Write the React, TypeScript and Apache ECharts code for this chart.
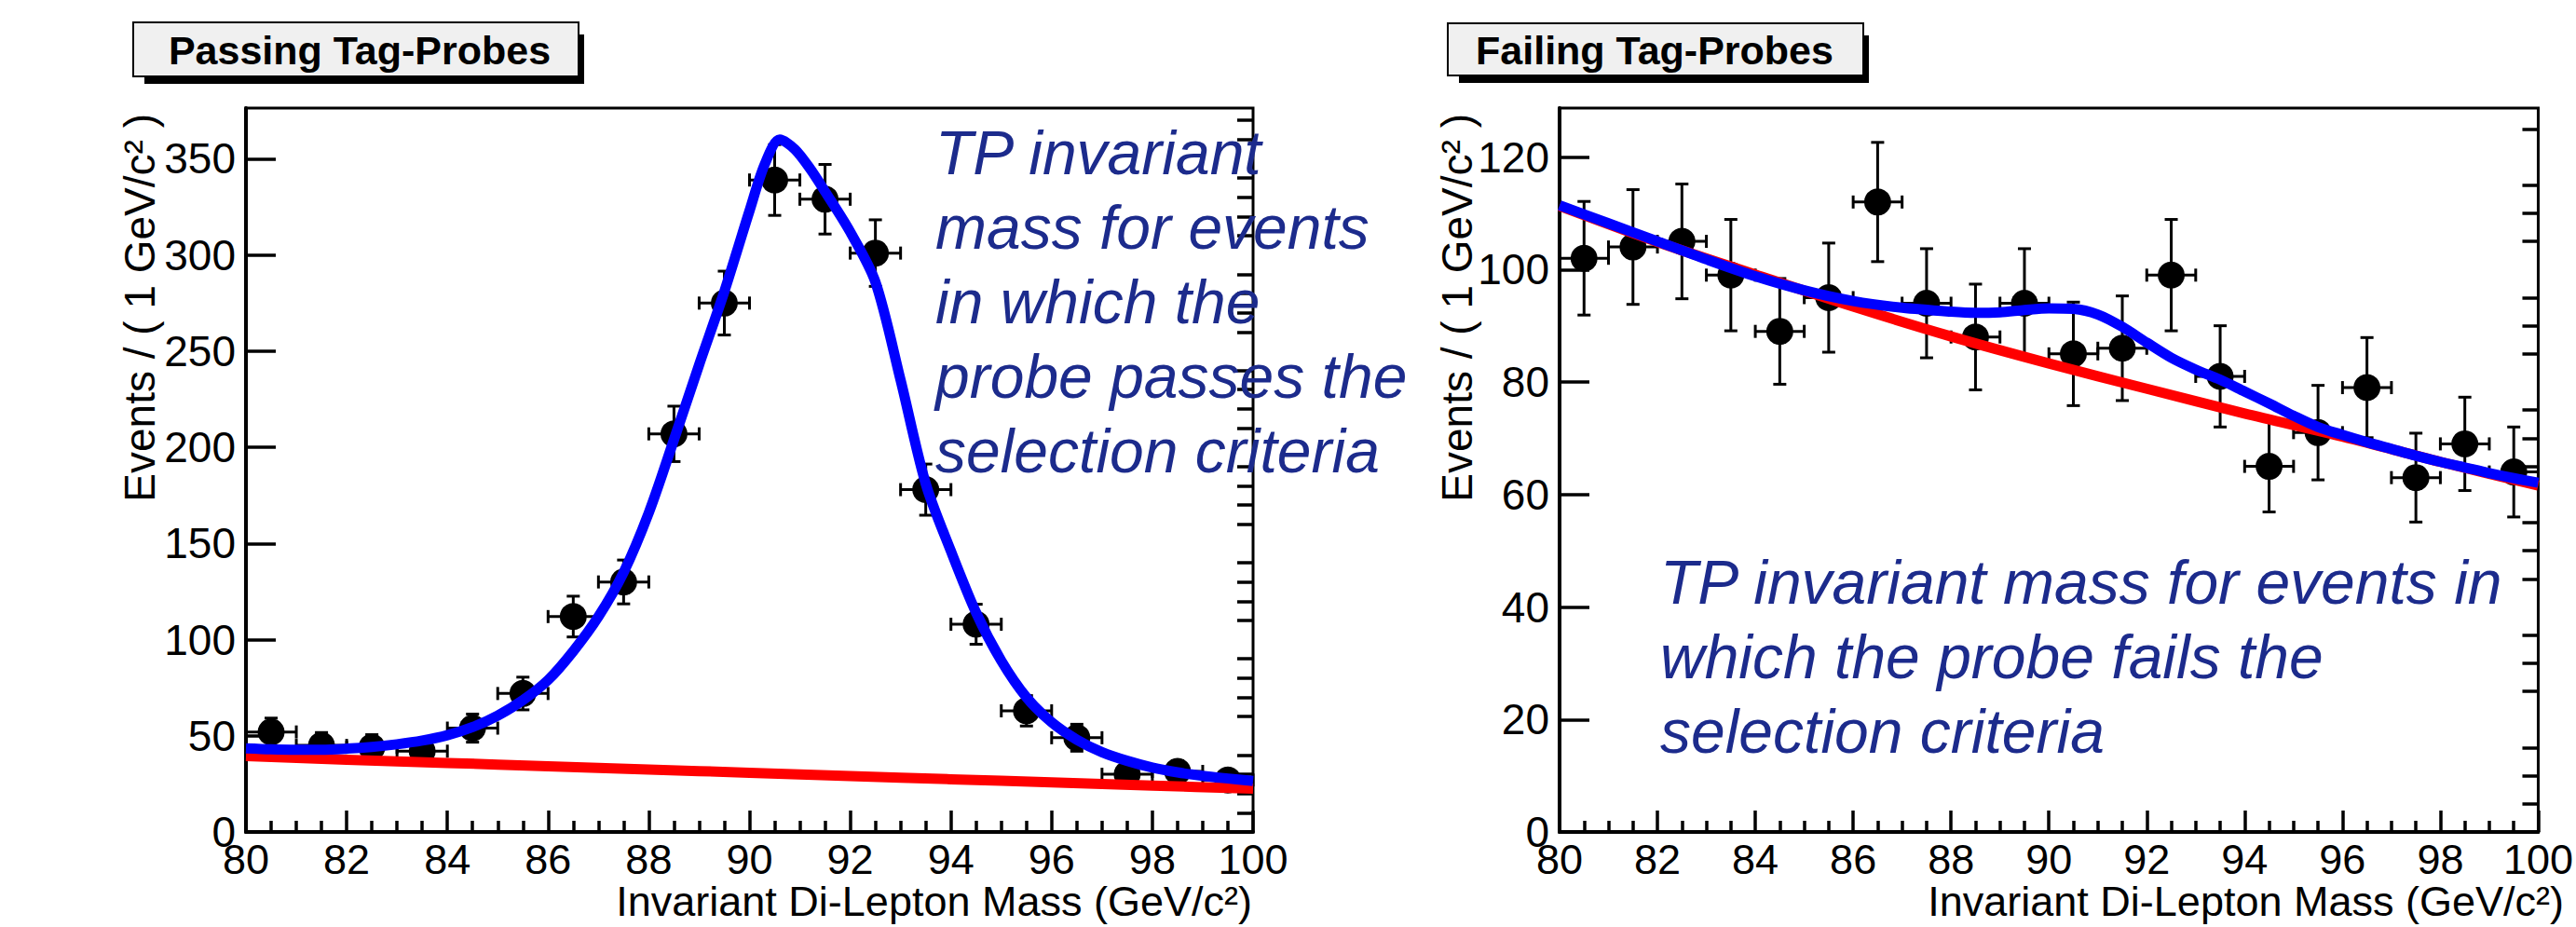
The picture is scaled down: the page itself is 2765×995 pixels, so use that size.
import React, { useEffect, useRef } from "react";
import * as echarts from "echarts";

// ---------- data ----------
const binCenters = [80.5, 81.5, 82.5, 83.5, 84.5, 85.5, 86.5, 87.5, 88.5, 89.5, 90.5, 91.5, 92.5, 93.5, 94.5, 95.5, 96.5, 97.5, 98.5, 99.5];
const binHalfWidth = 0.5;

const passCounts = [52, 45, 44, 42, 54, 72, 112, 130, 207, 275, 339, 329, 301, 178, 108, 63, 49, 30, 31.5, 27];
const passErrors = [7.2, 6.7, 6.6, 6.5, 7.3, 8.5, 10.6, 11.4, 14.4, 16.6, 18.4, 18.1, 17.3, 13.3, 10.4, 7.9, 7.0, 5.5, 5.6, 5.2];

const failCounts = [102, 104, 105, 99, 89, 95, 112, 94, 88, 94, 85, 86, 99, 81, 65, 71, 79, 63, 69, 64];
const failErrors = [10.1, 10.2, 10.2, 9.9, 9.4, 9.7, 10.6, 9.7, 9.4, 9.7, 9.2, 9.3, 9.9, 9.0, 8.1, 8.4, 8.9, 7.9, 8.3, 8.0];

// fitted curves (signal + background, blue) and background (red)
const passFitX = [80, 80.5, 81, 81.5, 82, 82.5, 83, 83.5, 84, 84.5, 85, 85.5, 86, 86.5, 87, 87.5, 88, 88.5, 89, 89.5, 90, 90.3, 90.6, 90.9, 91.2, 91.5, 92, 92.5, 93, 93.5, 94, 94.5, 95, 95.5, 96, 96.5, 97, 97.5, 98, 98.5, 99, 99.5, 100];
const passFitY = [43.5, 43.0, 42.8, 42.8, 43.3, 44.2, 45.6, 47.5, 50.3, 54.5, 60.5, 68.5, 79, 94, 112, 135, 166, 204, 243, 281, 323, 347, 360, 355, 345, 333, 312, 286, 235, 181, 146, 114, 89, 70, 57, 48, 41.5, 37, 33.5, 31, 29.2, 27.8, 26.5];
const passBkgX = [80, 82, 84, 86, 88, 90, 92, 94, 96, 98, 100];
const passBkgY = [39.5, 37.6, 35.9, 34.2, 32.5, 30.8, 29.1, 27.4, 25.8, 24.1, 22.5];

const failFitX = [80, 81, 82, 83, 84, 85, 86, 87, 88, 88.5, 89, 89.5, 90, 90.5, 91, 91.5, 92, 92.5, 93, 93.5, 94, 94.5, 95, 95.5, 96, 96.5, 97, 97.5, 98, 98.5, 99, 99.5, 100];
const failFitY = [111.4, 108.2, 105.0, 101.8, 98.8, 96.3, 94.4, 93.2, 92.5, 92.3, 92.4, 92.8, 93.1, 93.0, 92.0, 89.8, 87.0, 84.3, 82.2, 80.4, 78.3, 76.2, 74.0, 72.0, 70.6, 69.3, 68.1, 66.9, 65.8, 64.8, 63.8, 62.9, 62.1];
const failBkgX = [80, 82, 84, 86, 88, 90, 92, 94, 96, 98, 100];
const failBkgY = [111.3, 104.9, 99.1, 93.4, 88.1, 83.3, 78.8, 74.4, 70.3, 65.8, 61.6];

// axes
const xMin = 80;
const xMax = 100;
const xStep = 2;
const passYMax = 376.4;
const failYMax = 128.7;
const passYTicks = [0, 50, 100, 150, 200, 250, 300, 350];
const passYMinorTicks = [10, 20, 30, 40, 60, 70, 80, 90, 110, 120, 130, 140, 160, 170, 180, 190, 210, 220, 230, 240, 260, 270, 280, 290, 310, 320, 330, 340, 360, 370];
const failYTicks = [0, 20, 40, 60, 80, 100, 120];
const failYMinorTicks = [5, 10, 15, 25, 30, 35, 45, 50, 55, 65, 70, 75, 85, 90, 95, 105, 110, 115, 125];

const passTitle = "Passing Tag-Probes";
const failTitle = "Failing Tag-Probes";
const yTitle = "Events / ( 1 GeV/c\u00B2 )";
const xTitle = "Invariant Di-Lepton Mass (GeV/c\u00B2)";
const passNote = ["TP invariant", "mass for events", "in which the", "probe passes the", "selection criteria"];
const failNote = ["TP invariant mass for events in", "which the probe fails the", "selection criteria"];

// ---------- layout ----------
const W = 2765;
const H = 995;
const FONT = "'Liberation Sans', Arial, Helvetica, sans-serif";
const NOTE_COLOR = "#1c2b8c";

const panels = [
  { left: 264, right: 1345, top: 116, bottom: 893 },
  { left: 1674, right: 2754, top: 116, bottom: 893 },
];

function pairs(xs: number[], ys: number[]) {
  return xs.map((x, i) => [x, ys[i]]);
}

function errorBarItem(params: any, api: any) {
  const x = api.value(0);
  const y = api.value(1);
  const e = api.value(2);
  const pL = api.coord([x - binHalfWidth, y]);
  const pR = api.coord([x + binHalfWidth, y]);
  const pT = api.coord([x, y + e]);
  const pB = api.coord([x, y - e]);
  const style = { stroke: "#000", lineWidth: 3 };
  const cw = 7;
  return {
    type: "group",
    children: [
      { type: "line", shape: { x1: pT[0], y1: pT[1], x2: pB[0], y2: pB[1] }, style },
      { type: "line", shape: { x1: pT[0] - cw, y1: pT[1], x2: pT[0] + cw, y2: pT[1] }, style },
      { type: "line", shape: { x1: pB[0] - cw, y1: pB[1], x2: pB[0] + cw, y2: pB[1] }, style },
      { type: "line", shape: { x1: pL[0], y1: pL[1], x2: pR[0], y2: pR[1] }, style },
      { type: "line", shape: { x1: pL[0], y1: pL[1] - cw, x2: pL[0], y2: pL[1] + cw }, style },
      { type: "line", shape: { x1: pR[0], y1: pR[1] - cw, x2: pR[0], y2: pR[1] + cw }, style },
    ],
  };
}

function xAxisFor(gridIndex: number) {
  return {
    type: "value",
    gridIndex,
    min: xMin,
    max: xMax,
    interval: xStep,
    axisLine: { show: true, lineStyle: { color: "#000", width: 4 } },
    axisTick: { show: true, inside: true, length: 23, lineStyle: { color: "#000", width: 3.5 } },
    minorTick: { show: true, splitNumber: 4, length: 12, lineStyle: { color: "#000", width: 3.5 } },
    axisLabel: {
      show: true,
      showMinLabel: true,
      showMaxLabel: true,
      margin: 10,
      color: "#000",
      fontSize: 45,
      lineHeight: 38,
      fontFamily: FONT,
    },
    splitLine: { show: false },
    minorSplitLine: { show: false },
  };
}

function yAxesFor(gridIndex: number, yMax: number, ticks: number[], minor: number[]) {
  return [
    {
      type: "value",
      gridIndex,
      min: 0,
      max: yMax,
      axisLine: { show: true, lineStyle: { color: "#000", width: 4 } },
      axisTick: { show: true, inside: true, length: 32, customValues: ticks, lineStyle: { color: "#000", width: 3.5 } },
      axisLabel: {
        show: true,
        customValues: ticks,
        margin: 11,
        color: "#000",
        fontSize: 46,
        lineHeight: 40,
        fontFamily: FONT,
        padding: [12, 0, 0, 0],
      },
      splitLine: { show: false },
    },
    {
      type: "value",
      gridIndex,
      min: 0,
      max: yMax,
      axisLine: { show: false },
      axisTick: { show: true, inside: true, length: 17, customValues: minor, lineStyle: { color: "#000", width: 3.5 } },
      axisLabel: { show: false },
      splitLine: { show: false },
    },
  ];
}

function curve(gi: number, xs: number[], ys: number[], color: string, z: number) {
  return {
    type: "line",
    xAxisIndex: gi,
    yAxisIndex: gi * 2,
    data: pairs(xs, ys),
    smooth: 0.3,
    showSymbol: false,
    symbol: "none",
    lineStyle: { color, width: 11, cap: "butt", join: "round" },
    z,
    silent: true,
  };
}

function seriesFor(gi: number, counts: number[], errors: number[], fitX: number[], fitY: number[], bkgX: number[], bkgY: number[]) {
  const yi = gi * 2;
  return [
    {
      type: "custom",
      xAxisIndex: gi,
      yAxisIndex: yi,
      renderItem: errorBarItem,
      data: binCenters.map((x, i) => [x, counts[i], errors[i]]),
      encode: { x: 0, y: 1 },
      z: 2,
      silent: true,
    },
    {
      type: "scatter",
      xAxisIndex: gi,
      yAxisIndex: yi,
      data: pairs(binCenters, counts),
      symbol: "circle",
      symbolSize: 29,
      itemStyle: { color: "#000", opacity: 1 },
      z: 3,
      silent: true,
    },
    curve(gi, bkgX, bkgY, "#ff0000", 4),
    curve(gi, fitX, fitY, "#0000ff", 5),
  ];
}

function titleBox(x: number, y: number, w: number, h: number, text: string, textX: number) {
  return [
    { type: "rect", shape: { x: x + 12, y: y + 13, width: w - 6, height: h - 5 }, style: { fill: "#000" }, z: 10 },
    { type: "rect", shape: { x, y, width: w, height: h }, style: { fill: "#f0f0f0", stroke: "#000", lineWidth: 2 }, z: 11 },
    {
      type: "text",
      x: textX,
      y: y + h / 2 + 1,
      z: 12,
      style: { text, fill: "#000", fontSize: 43, fontWeight: "bold", fontFamily: FONT, align: "center", verticalAlign: "middle" },
    },
  ];
}

function noteLines(lines: string[], x: number, firstMid: number, step: number) {
  return lines.map((t, i) => ({
    type: "text",
    x,
    y: firstMid + i * step,
    z: 20,
    style: { text: t, fill: NOTE_COLOR, fontSize: 66, fontStyle: "italic", fontFamily: FONT, align: "left", verticalAlign: "middle" },
  }));
}

function xTitleText(x: number) {
  return {
    type: "text",
    x,
    y: 967,
    z: 20,
    style: { text: xTitle, fill: "#000", fontSize: 45, lineHeight: 38, fontFamily: FONT, align: "right", verticalAlign: "middle" },
  };
}

function yTitleText(x: number) {
  return {
    type: "text",
    x,
    y: 122,
    rotation: Math.PI / 2,
    z: 20,
    style: { text: yTitle, fill: "#000", fontSize: 46, lineHeight: 40, fontFamily: FONT, align: "right", verticalAlign: "middle" },
  };
}

export default function App() {
  const ref = useRef<HTMLDivElement | null>(null);

  useEffect(() => {
    if (!ref.current) return;
    const chart = echarts.init(ref.current, null, { renderer: "svg", width: W, height: H });

    const grids = panels.map((p) => ({
      left: p.left,
      top: p.top,
      width: p.right - p.left,
      height: p.bottom - p.top,
      show: true,
      borderColor: "#000",
      borderWidth: 3,
      backgroundColor: "transparent",
      containLabel: false,
    }));

    const graphic: any[] = [
      ...titleBox(143, 24, 478, 58, passTitle, 386),
      ...titleBox(1554, 25, 446, 56, failTitle, 1776),
      yTitleText(150),
      yTitleText(1564),
      xTitleText(1344),
      xTitleText(2752),
      ...noteLines(passNote, 1004, 164, 80),
      ...noteLines(failNote, 1782, 625, 80),
    ];

    chart.setOption({
      animation: false,
      backgroundColor: "#ffffff",
      grid: grids,
      xAxis: [xAxisFor(0), xAxisFor(1)],
      yAxis: [
        ...yAxesFor(0, passYMax, passYTicks, passYMinorTicks),
        ...yAxesFor(1, failYMax, failYTicks, failYMinorTicks),
      ],
      series: [
        ...seriesFor(0, passCounts, passErrors, passFitX, passFitY, passBkgX, passBkgY),
        ...seriesFor(1, failCounts, failErrors, failFitX, failFitY, failBkgX, failBkgY),
      ],
      graphic,
    });

    return () => {
      chart.dispose();
    };
  }, []);

  return (
    <div
      ref={ref}
      style={{ position: "fixed", left: 0, top: 0, width: W, height: H, background: "#fff", overflow: "hidden" }}
    />
  );
}
